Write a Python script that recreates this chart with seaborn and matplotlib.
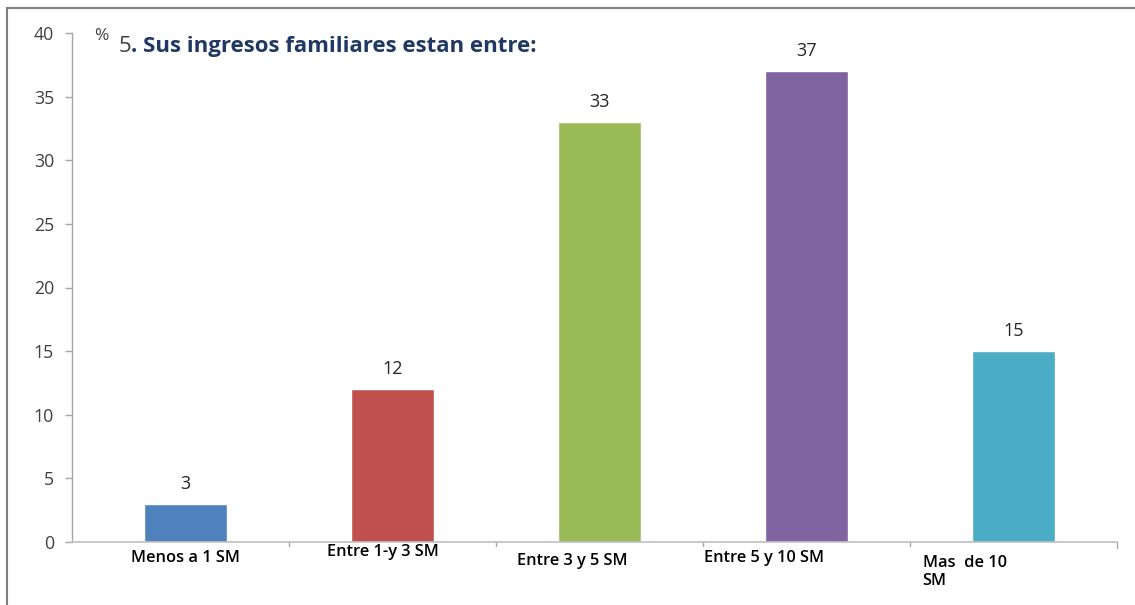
import matplotlib
matplotlib.use("Agg")
import matplotlib.pyplot as plt
import matplotlib.transforms as mtransforms
from matplotlib.lines import Line2D
import seaborn as sns
import pandas as pd

categories = ["Menos a 1 SM", "Entre 1-y 3 SM", "Entre 3 y 5 SM", "Entre 5 y 10 SM", "Mas  de 10\nSM"]
values = [3, 12, 33, 37, 15]
colors = ["#4F81BD", "#C0504D", "#9BBB59", "#8064A2", "#4BACC6"]
yticks = [0, 5, 10, 15, 20, 25, 30, 35, 40]

sns.set_theme(style="white")
plt.rcParams["font.family"] = ["Open Sans", "DejaVu Sans"]

df = pd.DataFrame({"cat": categories, "val": values})

fig = plt.figure(figsize=(11.35, 6.05), dpi=100)
ax = fig.add_axes([72/1135, 1-542/605, (1117-72)/1135, (542-33)/605])

sns.barplot(data=df, x="cat", y="val", hue="cat", palette=colors, width=0.4,
            legend=False, ax=ax, saturation=1)

ax.set_ylim(0, 40)
ax.set_xlim(-0.55, 4.5)
ax.set_yticks(yticks)
ax.set_yticklabels([str(t) for t in yticks], fontsize=12.8, color="#404040")
ax.set_xlabel("")
ax.set_ylabel("")
ax.tick_params(axis="y", length=5, width=1, color="#A6A6A6", left=True, pad=8)
ax.tick_params(axis="x", length=0)
for s in ["top", "right"]:
    ax.spines[s].set_visible(False)
ax.spines["left"].set_color("#A6A6A6")
ax.spines["bottom"].set_color("#BFBFBF")
ax.spines["left"].set_linewidth(1)
ax.spines["bottom"].set_linewidth(1.2)

# x category boundary ticks
for b in [0.5, 1.5, 2.5, 3.5]:
    ax.plot([b, b], [0, -0.3], color="#A6A6A6", lw=1, clip_on=False)
ax.plot([4.5, 4.5], [0, -0.5], color="#A6A6A6", lw=1, clip_on=False)

# x tick labels with individual offsets (dx, dy in pixels) like the reference
ax.set_xticks(range(len(categories)))
ax.set_xticklabels(categories, fontsize=11.8, color="#000000", fontweight="semibold")
offsets = [(0, -3, "center"), (-10, 3, "center"), (-83, -6, "left"), (-103, -3, "left"), (-91, -8, "left")]
for lab, (dx, dy, ha) in zip(ax.get_xticklabels(), offsets):
    lab.set_horizontalalignment(ha)
    lab.set_verticalalignment("top")
    lab.set_linespacing(1.15)
    lab.set_transform(lab.get_transform() + mtransforms.ScaledTranslation(dx/100, dy/100, fig.dpi_scale_trans))

# value labels
for i, v in enumerate(values):
    ax.annotate(str(v), (i, v), xytext=(0, 8), textcoords="offset points",
                ha="center", va="bottom", fontsize=13, color="#262626")

# title and percent sign
fig.text(94/1135, 1-40/605, "%", fontsize=12.5, color="#404040", va="baseline")
fig.text(119/1135, 1-52/605, "5", fontsize=16, color="#404040", va="baseline")
fig.text(131/1135, 1-52/605, ". Sus ingresos familiares estan entre:", fontsize=16,
         color="#1F3864", fontweight="bold", va="baseline")

# figure frame (left and top)
fig.add_artist(Line2D([7/1135, 7/1135], [0, 1-8/605], color="#808080", lw=1.5))
fig.add_artist(Line2D([7/1135, 1], [1-8/605, 1-8/605], color="#808080", lw=1.5))

fig.savefig("out.png", dpi=100)
